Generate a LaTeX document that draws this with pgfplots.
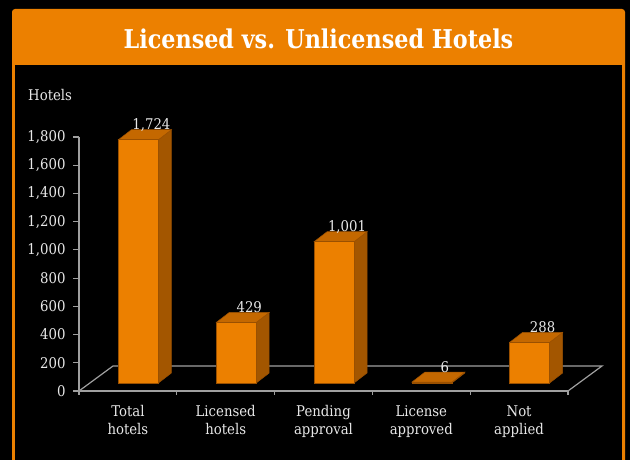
\documentclass[border=0pt]{standalone}
\usepackage{fontspec}
\setmainfont{DejaVu Serif}[FakeStretch=0.9]
\newfontfamily\titlefont{DejaVu Serif}[FakeStretch=0.86]
\usepackage{pgfplots}
\usepackage{pgfplotstable}
\pgfplotsset{compat=1.18}
\pgfkeys{/pgf/number format/assume math mode=true, /pgf/number format/1000 sep={,}}
\definecolor{orng}{HTML}{EC8000}
\definecolor{bside}{HTML}{A35600}
\definecolor{btop}{HTML}{C46800}
\definecolor{bedge}{HTML}{9A5000}
\definecolor{axgray}{HTML}{A0A0A0}
\definecolor{txt}{HTML}{E8E8E8}
\newcommand\lblfont{\fontsize{14.8}{18}\selectfont}

\pgfplotstableread{
x v
0 1724
1 429
2 1001
3 6
4 288
}\data

\begin{document}
\begin{tikzpicture}[x=1bp,y=1bp]
\useasboundingbox (0,0) rectangle (630,460);
\fill[black] (0,0) rectangle (630,460);
\fill[orng,rounded corners=3bp] (12,-10) rectangle (625,451);
\fill[black] (15,-10) rectangle (622,395);
\node[anchor=base, text=white, font=\titlefont\fontsize{26}{30}\selectfont\bfseries, inner sep=0pt] at (318.5,411) {Licensed vs. Unlicensed Hotels};
\node[anchor=base west, text=txt, font=\lblfont, inner sep=0pt] at (28,359) {Hotels};
\begin{axis}[at={(79bp,69bp)}, anchor=south west, scale only axis,
  width=489bp, height=254bp,
  xmin=0, xmax=5, ymin=0, ymax=1800, clip=false,
  axis lines=left, axis line style={axgray, line width=1.2bp, -},
  tick align=outside,
  ytick={0,200,...,1800}, scaled y ticks=false,
  yticklabel style={text=txt, font=\lblfont, xshift=-4bp},
  major tick length=6bp, minor tick length=4bp,
  ytick style={axgray, line width=1.2bp},
  xtick={0.5,1.5,2.5,3.5,4.5},
  xticklabels={Total\\hotels, Licensed\\hotels, Pending\\approval, License\\approved, Not\\applied},
  xticklabel style={align=center, text=txt, font=\lblfont, yshift=-5bp},
  minor xtick={0,1,2,3,4,5},
  major x tick style={draw=none},
  minor x tick style={axgray, line width=1.2bp},
]
\draw[axgray, line width=1.2bp] (axis cs:0,0) -- (axis cs:0.3476,177.2) -- (axis cs:5.3476,177.2) -- (axis cs:5,0);
\pgfplotsinvokeforeach{0,1,2,3,4}{%
 \pgfplotstablegetelem{#1}{v}\of\data
 \let\val\pgfplotsretval
 \pgfmathsetmacro\yb{56.7}%
 \pgfmathsetmacro\yt{56.7+\val}%
 \pgfmathsetmacro\ybb{56.7+70.9}%
 \pgfmathsetmacro\ytb{56.7+70.9+\val}%
 \pgfmathsetmacro\xl{#1+0.403}%
 \pgfmathsetmacro\xr{#1+0.812}%
 \pgfmathsetmacro\xlb{#1+0.403+0.133}%
 \pgfmathsetmacro\xrb{#1+0.812+0.133}%
 \pgfmathsetmacro\xc{#1+0.6075+0.133}%
 \edef\temp{%
  \noexpand\addplot[draw=bedge, fill=bside, line width=0.5bp] coordinates {(\xr,\yb) (\xrb,\ybb) (\xrb,\ytb) (\xr,\yt)} -- cycle;
  \noexpand\addplot[draw=bedge, fill=btop, line width=0.5bp] coordinates {(\xl,\yt) (\xr,\yt) (\xrb,\ytb) (\xlb,\ytb)} -- cycle;
  \noexpand\addplot[draw=bedge, fill=orng, line width=0.5bp] coordinates {(\xl,\yb) (\xr,\yb) (\xr,\yt) (\xl,\yt)} -- cycle;
  \noexpand\node[anchor=base, text=txt, font=\noexpand\lblfont, inner sep=0pt] at (axis cs:\xc,\ytb) {\noexpand\pgfmathprintnumber{\val}};
 }\temp
}
\end{axis}
\end{tikzpicture}
\end{document}
